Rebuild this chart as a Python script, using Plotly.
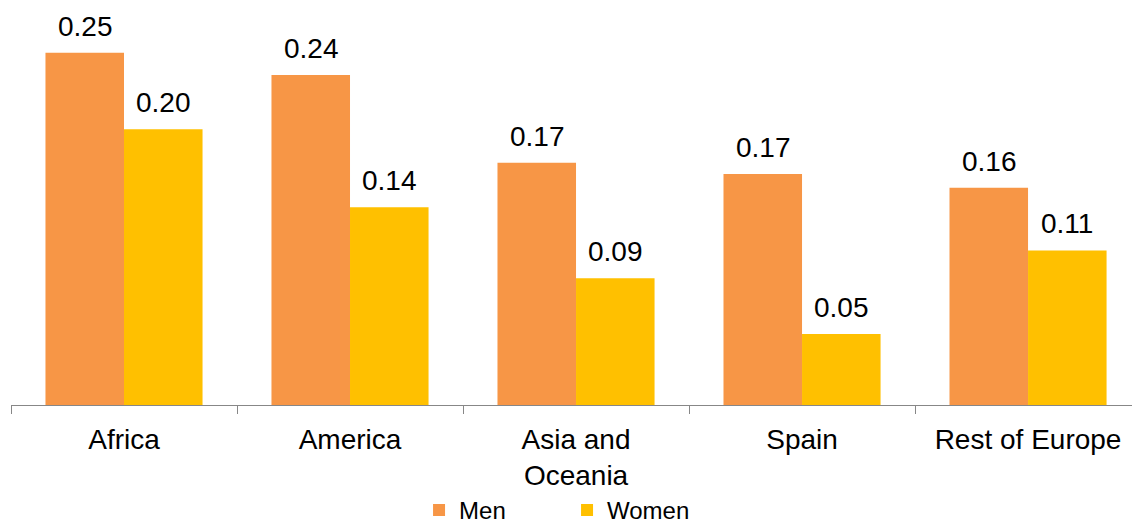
import plotly.graph_objects as go

regions = ["Africa", "America", "Asia and<br>Oceania", "Spain", "Rest of Europe"]
men = [0.253, 0.237, 0.174, 0.166, 0.156]
women = [0.198, 0.142, 0.091, 0.051, 0.111]

MEN_COLOR = "#F79646"
WOMEN_COLOR = "#FFC000"
FONT = "Liberation Sans, Arial, sans-serif"

fig = go.Figure()
fig.add_trace(go.Bar(name="Men", x=regions, y=men, marker=dict(color=MEN_COLOR, line=dict(width=0))))
fig.add_trace(go.Bar(name="Women", x=regions, y=women, marker=dict(color=WOMEN_COLOR, line=dict(width=0))))

# value labels above each bar, offset to each half of the group
annotations = []
for series, shift in ((men, -39), (women, 39)):
    for cat, val in zip(regions, series):
        annotations.append(dict(
            x=cat, y=val, xref="x", yref="y", text=f"{val:.2f}",
            showarrow=False, xshift=shift, yanchor="bottom", yshift=9,
            font=dict(family=FONT, size=28, color="#000000"),
        ))

fig.update_layout(
    width=1132, height=525,
    margin=dict(l=11, r=0, t=0, b=120, autoexpand=False),
    paper_bgcolor="white", plot_bgcolor="white",
    barmode="group", bargap=0.305, bargroupgap=0,
    font=dict(family=FONT, color="#000000"),
    annotations=annotations,
    showlegend=True,
    legend=dict(
        orientation="h", x=0.364, xanchor="left",
        yref="container", y=0.028, yanchor="middle",
        font=dict(family=FONT, size=24), entrywidth=103, entrywidthmode="pixels",
        traceorder="normal",
    ),
    xaxis=dict(
        range=[-0.5, 4.46], showline=True, linecolor="#878787", linewidth=1,
        ticks="outside", tickson="boundaries", ticklen=8, tickcolor="#878787",
        ticklabelstandoff=9,
        tickfont=dict(family=FONT, size=28, color="#000000"), showgrid=False,
    ),
    yaxis=dict(range=[0, 0.2909], visible=False, showgrid=False, zeroline=False),
)

fig.write_html("out.html")
